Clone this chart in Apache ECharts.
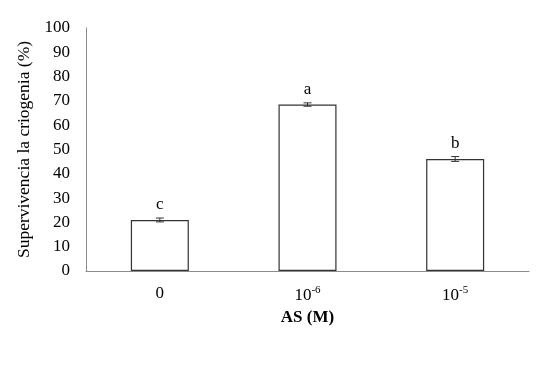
<!DOCTYPE html>
<html><head><meta charset="utf-8">
<script src="https://cdn.jsdelivr.net/npm/echarts@6/dist/echarts.min.js"></script>
<style>html,body{margin:0;padding:0;background:#fff}#c{width:558px;height:365px}</style>
</head><body><div id="c"></div>
<script>
const categories = ['0', '10^-6', '10^-5'];
const values = [21, 68.5, 46.1];
const errors = [0.8, 0.7, 1.0];
const letters = ['c', 'a', 'b'];
const yTicks = {min: 0, max: 100, interval: 10};

const chart = echarts.init(document.getElementById('c'));
const serif = '"Liberation Serif", "Times New Roman", serif';
chart.setOption({
  animation: false,
  grid: {left: 86, right: 29, top: 28, bottom: 94},
  xAxis: {
    type: 'category', data: categories,
    axisLine: {lineStyle: {color: '#8c8c8c', width: 1}},
    axisTick: {show: false},
    axisLabel: {
      margin: 14, fontFamily: serif, fontSize: 17, color: '#000',
      formatter: v => { const p = v.split('^'); return p.length > 1 ? '{b|' + p[0] + '}{s|' + p[1] + '}' : '{b|' + v + '}'; },
      rich: {b: {fontFamily: serif, fontSize: 17, color: '#000'}, s: {fontFamily: serif, fontSize: 11, color: '#000', padding: [0, 0, 10, 0]}}
    },
    name: 'AS (M)', nameLocation: 'middle', nameGap: 36,
    nameTextStyle: {fontFamily: serif, fontSize: 17, fontWeight: 'bold', color: '#000'}
  },
  yAxis: {
    type: 'value', min: yTicks.min, max: yTicks.max, interval: yTicks.interval,
    axisLine: {show: true, lineStyle: {color: '#8c8c8c', width: 1}},
    axisTick: {show: false}, splitLine: {show: false},
    axisLabel: {margin: 16, fontFamily: serif, fontSize: 17, color: '#000'},
    name: 'Supervivencia la criogenia (%)', nameLocation: 'middle', nameGap: 53,
    nameTextStyle: {fontFamily: serif, fontSize: 17.5, color: '#000'}
  },
  series: [{
    type: 'bar', data: values, barWidth: 58,
    itemStyle: {color: '#fff', borderColor: '#333', borderWidth: 1.2},
    label: {show: true, position: 'top', distance: 7, formatter: p => letters[p.dataIndex],
      fontFamily: serif, fontSize: 17, color: '#000'}
  }, {
    type: 'custom', z: 5,
    data: values.map((v, i) => [i, v - errors[i], v + errors[i]]),
    renderItem: (params, api) => {
      const lo = api.coord([api.value(0), api.value(1)]);
      const hi = api.coord([api.value(0), api.value(2)]);
      const w = 4;
      const st = {stroke: '#333', lineWidth: 1};
      return {type: 'group', children: [
        {type: 'line', shape: {x1: lo[0], y1: lo[1], x2: hi[0], y2: hi[1]}, style: st},
        {type: 'line', shape: {x1: lo[0] - w, y1: lo[1], x2: lo[0] + w, y2: lo[1]}, style: st},
        {type: 'line', shape: {x1: hi[0] - w, y1: hi[1], x2: hi[0] + w, y2: hi[1]}, style: st}
      ]};
    }
  }]
});
</script></body></html>
